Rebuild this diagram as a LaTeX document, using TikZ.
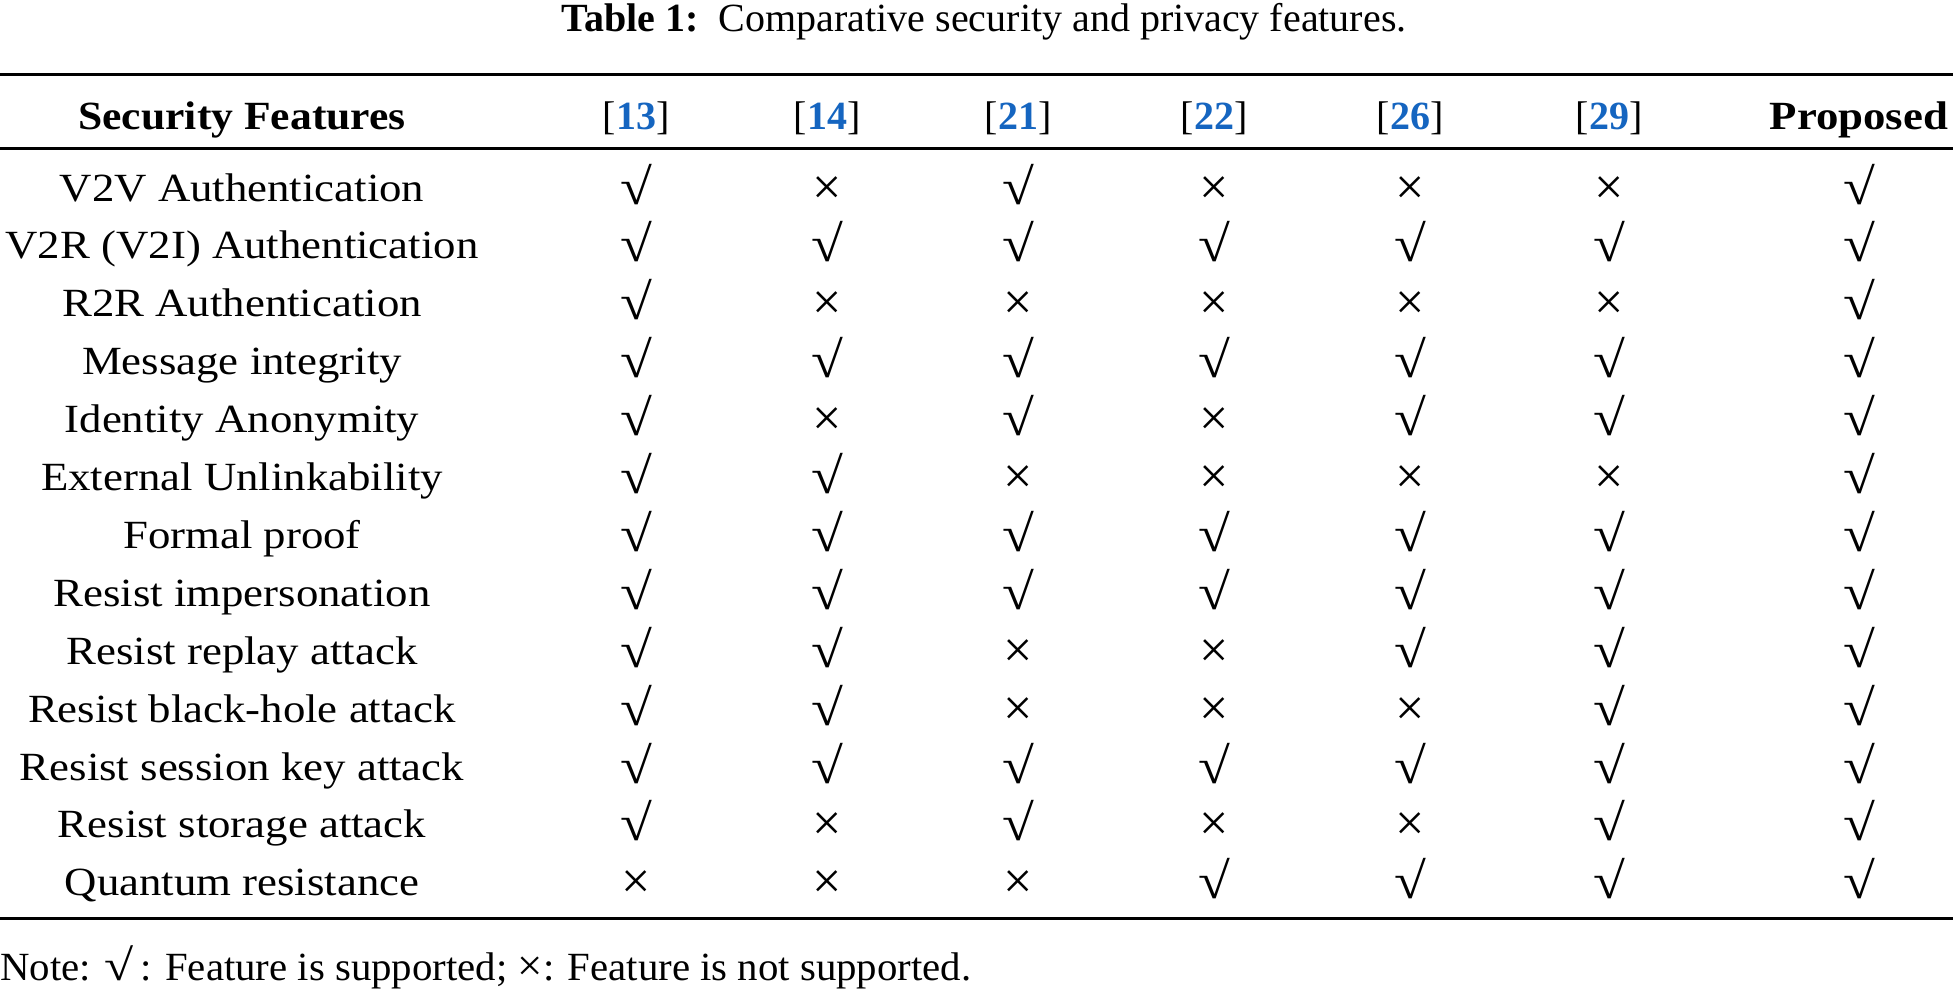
\documentclass[tikz,border=0pt]{standalone}
\usepackage{graphicx}
\usepackage{fontspec}
\setmainfont{Liberation Serif}
\definecolor{citeblue}{RGB}{21,101,192}
\newcommand\yesmark{\raisebox{-3pt}{\scalebox{1.45}[1.27]{√}}}
\newcommand\nomark{\raisebox{-3pt}{\scalebox{1.3}{×}}}
\newcommand\mkcell[1]{\ifnum#1=1 \yesmark\else \nomark\fi}
\newcommand\wide[2]{\scalebox{#1}[1]{#2}}
\begin{document}
\begin{tikzpicture}[x=1pt,y=-1pt,
  txt/.style={anchor=base, inner sep=0pt, font=\fontsize{40}{48}\selectfont},
  hdr/.style={txt, font=\fontsize{40}{48}\selectfont\bfseries},
  rulel/.style={line width=3pt, draw=black}]
\useasboundingbox (0,0) rectangle (1953,995);
\def\colx{{636,827,1018,1214,1410,1609,1859}}
% caption
\node[txt] (cap) at (984,32) {\textbf{Table 1:}\ \ Comparative security and privacy features.};
% rules
\coordinate (r1l) at (0,75);   \coordinate (r1r) at (1953,75);
\coordinate (r2l) at (0,149);  \coordinate (r2r) at (1953,149);
\coordinate (r3l) at (0,918);  \coordinate (r3r) at (1953,918);
\draw[rulel] (r1l) -- (r1r);
\draw[rulel] (r2l) -- (r2r);
\draw[rulel] (r3l) -- (r3r);
% header
\node[hdr] (h0) at (242,130) {\wide{1.09}{Security Features}};
\foreach \c [count=\j] in {13,14,21,22,26,29} {
  \pgfmathsetmacro\xx{\colx[\j-1]}
  \node[txt] (h\j) at (\xx,130) {[\textcolor{citeblue}{\textbf{\c}}]};
}
\node[hdr] (h7) at (1859,130) {\wide{1.12}{Proposed}};
% rows
\foreach \n/\a/\b/\c/\d/\e/\f/\g [count=\i] in {
  V2V Authentication/1/0/1/0/0/0/1,
  V2R (V2I) Authentication/1/1/1/1/1/1/1,
  R2R Authentication/1/0/0/0/0/0/1,
  Message integrity/1/1/1/1/1/1/1,
  Identity Anonymity/1/0/1/0/1/1/1,
  External Unlinkability/1/1/0/0/0/0/1,
  Formal proof/1/1/1/1/1/1/1,
  Resist impersonation/1/1/1/1/1/1/1,
  Resist replay attack/1/1/0/0/1/1/1,
  Resist black-hole attack/1/1/0/0/0/1/1,
  Resist session key attack/1/1/1/1/1/1/1,
  Resist storage attack/1/0/1/0/0/1/1,
  Quantum resistance/0/0/0/1/1/1/1} {
  \pgfmathsetmacro\yy{201+57.9*(\i-1)}
  \node[txt] (f\i) at (242,\yy) {\wide{1.12}{\n}};
  \foreach \v [count=\j] in {\a,\b,\c,\d,\e,\f,\g} {
    \pgfmathsetmacro\xx{\colx[\j-1]}
    \node[txt] (m\i-\j) at (\xx,\yy) {\mkcell{\v}};
  }
}
% note
\node[txt, anchor=base west] (note) at (0,980) {\wide{1.02}{Note: \scalebox{1.3}[1.1]{√}\,: Feature is supported; \scalebox{1.1}{×}: Feature is not supported.}};
\end{tikzpicture}
\end{document}
